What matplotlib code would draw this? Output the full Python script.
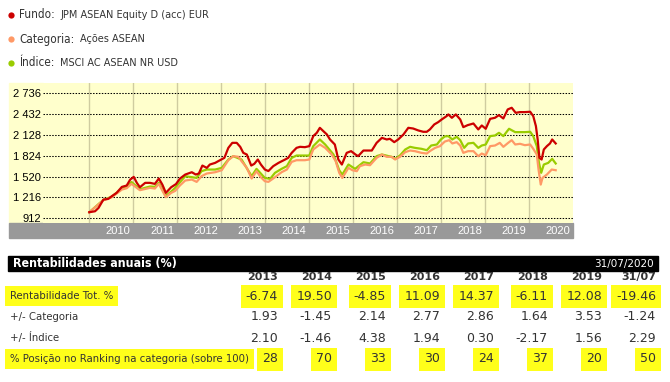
import matplotlib
matplotlib.use("Agg")
import matplotlib.pyplot as plt
from matplotlib import font_manager as fm
from matplotlib.patches import Rectangle
from matplotlib.lines import Line2D
from matplotlib.ticker import FuncFormatter

# --------------------------------------------------------------
# Data
# --------------------------------------------------------------

fund_x = [2010.00, 2010.13, 2010.21, 2010.32, 2010.43, 2010.51, 2010.62, 2010.74, 2010.85, 2010.93,
          2011.01, 2011.08, 2011.15, 2011.27, 2011.38, 2011.49, 2011.58, 2011.66, 2011.74, 2011.86,
          2011.97, 2012.06, 2012.18, 2012.33, 2012.42, 2012.49, 2012.57, 2012.67, 2012.74, 2012.86,
          2012.97, 2013.07, 2013.16, 2013.25, 2013.35, 2013.43, 2013.50, 2013.58, 2013.68, 2013.75,
          2013.83, 2013.90, 2013.99, 2014.07, 2014.18, 2014.30, 2014.45, 2014.52, 2014.60, 2014.71,
          2014.79, 2014.90, 2015.00, 2015.09, 2015.17, 2015.24, 2015.32, 2015.40, 2015.47, 2015.58,
          2015.66, 2015.74, 2015.85, 2015.95, 2016.05, 2016.11, 2016.23, 2016.42, 2016.53, 2016.65,
          2016.76, 2016.83, 2016.93, 2017.02, 2017.14, 2017.25, 2017.36, 2017.48, 2017.59, 2017.67,
          2017.74, 2017.84, 2017.93, 2018.01, 2018.12, 2018.16, 2018.24, 2018.33, 2018.43, 2018.50,
          2018.60, 2018.73, 2018.84, 2018.92, 2019.01, 2019.11, 2019.22, 2019.31, 2019.41, 2019.51,
          2019.60, 2019.69, 2019.79, 2019.90, 2020.02, 2020.09, 2020.15, 2020.19, 2020.23, 2020.28,
          2020.33, 2020.40, 2020.47, 2020.52, 2020.60]
fund_y = [1000, 1014, 1063, 1184, 1194, 1233, 1282, 1369, 1389, 1476,
          1515, 1428, 1364, 1428, 1428, 1413, 1491, 1403, 1282, 1364,
          1410, 1490, 1549, 1583, 1549, 1564, 1680, 1646, 1695, 1719,
          1758, 1792, 1938, 2011, 2011, 1953, 1865, 1841, 1680, 1705,
          1768, 1695, 1622, 1600, 1671, 1719, 1768, 1792, 1865, 1938,
          1953, 1948, 1963, 2109, 2157, 2230, 2181, 2133, 2060, 1987,
          1768, 1695, 1865, 1890, 1841, 1817, 1899, 1899, 2011, 2084,
          2060, 2070, 2021, 2060, 2133, 2230, 2220, 2191, 2172, 2172,
          2206, 2279, 2313, 2352, 2400, 2425, 2376, 2425, 2352, 2240,
          2269, 2293, 2206, 2264, 2216, 2361, 2376, 2415, 2366, 2498,
          2522, 2449, 2459, 2459, 2464, 2400, 2255, 2060, 1792, 1768,
          1914, 1963, 2002, 2060, 2002]

cat_x = [2010.00, 2010.32, 2010.51, 2010.74, 2010.85, 2010.96, 2011.15, 2011.38, 2011.49, 2011.58,
         2011.74, 2011.86, 2011.95, 2012.06, 2012.18, 2012.33, 2012.44, 2012.55, 2012.67, 2012.86,
         2013.01, 2013.16, 2013.27, 2013.39, 2013.46, 2013.58, 2013.69, 2013.80, 2013.90, 2013.99,
         2014.07, 2014.22, 2014.37, 2014.49, 2014.60, 2014.71, 2014.90, 2015.00, 2015.09, 2015.24,
         2015.36, 2015.51, 2015.60, 2015.68, 2015.75, 2015.89, 2015.98, 2016.08, 2016.15, 2016.27,
         2016.38, 2016.53, 2016.65, 2016.76, 2016.87, 2016.95, 2017.06, 2017.18, 2017.29, 2017.40,
         2017.55, 2017.67, 2017.74, 2017.86, 2017.97, 2018.08, 2018.18, 2018.25, 2018.35, 2018.43,
         2018.50, 2018.61, 2018.73, 2018.84, 2018.92, 2019.01, 2019.11, 2019.22, 2019.33, 2019.41,
         2019.52, 2019.60, 2019.68, 2019.79, 2019.90, 2020.02, 2020.09, 2020.17, 2020.21, 2020.26,
         2020.30, 2020.40, 2020.51, 2020.60]
cat_y = [1000, 1175, 1218, 1330, 1350, 1413, 1321, 1355, 1345, 1413,
         1218, 1282, 1310, 1390, 1462, 1476, 1442, 1525, 1564, 1583,
         1612, 1758, 1817, 1807, 1744, 1646, 1491, 1598, 1510, 1452,
         1442, 1510, 1583, 1622, 1734, 1758, 1758, 1768, 1914, 1987,
         1938, 1841, 1744, 1574, 1500, 1646, 1612, 1598, 1671, 1695,
         1685, 1792, 1841, 1807, 1807, 1768, 1807, 1875, 1899, 1890,
         1865, 1855, 1890, 1938, 1963, 2030, 2050, 2002, 2021, 1972,
         1865, 1890, 1890, 1817, 1855, 1831, 1963, 1972, 2011, 1953,
         2011, 2050, 1987, 1997, 1977, 1987, 1924, 1841, 1622, 1403,
         1500, 1549, 1622, 1612]

idx_x = [2010.00, 2010.32, 2010.51, 2010.74, 2010.85, 2010.96, 2011.15, 2011.38, 2011.49, 2011.58,
         2011.74, 2011.86, 2011.95, 2012.18, 2012.44, 2012.55, 2012.67, 2012.86, 2013.01, 2013.16,
         2013.27, 2013.46, 2013.69, 2013.80, 2013.99, 2014.11, 2014.22, 2014.37, 2014.49, 2014.60,
         2014.71, 2015.00, 2015.09, 2015.24, 2015.36, 2015.55, 2015.68, 2015.75, 2015.89, 2016.04,
         2016.23, 2016.38, 2016.53, 2016.65, 2016.87, 2016.95, 2017.06, 2017.18, 2017.29, 2017.40,
         2017.55, 2017.67, 2017.77, 2017.90, 2017.99, 2018.08, 2018.16, 2018.25, 2018.35, 2018.43,
         2018.52, 2018.61, 2018.73, 2018.84, 2018.92, 2019.01, 2019.11, 2019.22, 2019.31, 2019.41,
         2019.54, 2019.68, 2019.79, 2019.90, 2020.02, 2020.09, 2020.17, 2020.22, 2020.27, 2020.33,
         2020.43, 2020.52, 2020.60]
idx_y = [1000, 1180, 1225, 1345, 1365, 1440, 1335, 1375, 1370, 1430,
         1240, 1300, 1355, 1525, 1500, 1598, 1622, 1622, 1646, 1768,
         1817, 1768, 1525, 1632, 1500, 1486, 1574, 1632, 1671, 1792,
         1826, 1826, 1963, 2060, 1987, 1841, 1612, 1549, 1695, 1632,
         1729, 1710, 1817, 1841, 1807, 1778, 1826, 1914, 1953, 1938,
         1924, 1904, 1972, 1987, 2060, 2105, 2109, 2060, 2099, 2050,
         1938, 2002, 2011, 1938, 1972, 1987, 2109, 2118, 2157, 2109,
         2216, 2167, 2167, 2167, 2172, 2109, 1963, 1719, 1574, 1695,
         1719, 1778, 1710]

y_ticks = [912, 1216, 1520, 1824, 2128, 2432, 2736]
years = list(range(2010, 2021))

legend_names = ["Fundo:", "Categoria:", "Índice:"]
legend_desc = ["JPM ASEAN Equity D (acc) EUR", "Ações ASEAN", "MSCI AC ASEAN NR USD"]

col_heads = ["2013", "2014", "2015", "2016", "2017", "2018", "2019", "31/07"]
rent_tot = ["-6.74", "19.50", "-4.85", "11.09", "14.37", "-6.11", "12.08", "-19.46"]
vs_cat = ["1.93", "-1.45", "2.14", "2.77", "2.86", "1.64", "3.53", "-1.24"]
vs_idx = ["2.10", "-1.46", "4.38", "1.94", "0.30", "-2.17", "1.56", "2.29"]
ranking = [28, 70, 33, 30, 24, 37, 20, 50]
row_labels = ["Rentabilidade Tot. %", "+/- Categoria", "+/- Índice",
              "% Posição no Ranking na categoria (sobre 100)"]

# --------------------------------------------------------------
# Figure setup
# --------------------------------------------------------------

W, H = 670, 382
RED, ORANGE, GREEN = "#cc0000", "#ff9966", "#99cc00"
TXT = "#333333"


def narrow_font(bold=False):
    # look for any condensed / narrow face, fall back to Liberation Sans
    for f in fm.fontManager.ttflist:
        base = f.fname.lower().rsplit("/", 1)[-1]
        if ("narrow" in base or "condensed" in base) \
                and "oblique" not in base and "italic" not in base and "mono" not in base \
                and "light" not in base and "semi" not in base and "extra" not in base \
                and ("bold" in base) == bold:
            return fm.FontProperties(fname=f.fname)
    return fm.FontProperties(family="Liberation Sans", weight="bold" if bold else "normal")


NARROW = narrow_font()
NARROW_B = narrow_font(bold=True)


def fx(x):
    return x / W


def fy(y):
    return 1 - y / H


fig = plt.figure(figsize=(W / 100, H / 100), dpi=100)
fig.patch.set_facecolor("white")
renderer = fig.canvas.get_renderer()


def fit(texts, width_px):
    # scale font size so that the first text spans width_px
    w = texts[0].get_window_extent(renderer).width
    size = texts[0].get_fontsize() * width_px / w
    for t in texts:
        t.set_fontsize(size)


# plot area: pixels x 43..573, y 83..223
ax = fig.add_axes([fx(43), fy(223), fx(573) - fx(43), fy(83) - fy(223)])
ax.set_facecolor("#ffffcc")

# yellow strip behind y labels, gray band under the plot
fig.add_artist(Rectangle((fx(9), fy(223)), fx(34), fy(83) - fy(223),
                         transform=fig.transFigure, color="#ffffcc", zorder=0))
fig.add_artist(Rectangle((fx(9), fy(238)), fx(564), fy(223) - fy(238),
                         transform=fig.transFigure, color="#999999", zorder=0))

ax.plot(idx_x, idx_y, color=GREEN, lw=1.6, zorder=3)
ax.plot(cat_x, cat_y, color=ORANGE, lw=1.6, zorder=4)
ax.plot(fund_x, fund_y, color=RED, lw=1.6, zorder=5)

ax.set_xlim(2010 - 46.3 / 44, 2010 + 483.7 / 44)
ax.set_ylim(843, 2883)

ax.set_yticks(y_ticks)
ax.yaxis.set_major_formatter(FuncFormatter(lambda v, p: f"{int(v):,}".replace(",", " ")))
ax.tick_params(axis="y", length=0, pad=1.5, labelsize=8, labelcolor="black")
for lab in ax.get_yticklabels():
    lab.set_family("Liberation Sans")
ax.grid(axis="y", color="black", lw=0.75, linestyle=(0, (1.4, 1.4)))

ax.set_xticks(years)
ax.set_xticklabels([])
ax.set_xticks([y + 0.93 for y in years], minor=True)
ax.set_xticklabels([str(y) for y in years], minor=True, ha="right")
ax.tick_params(axis="x", which="both", length=0)
ax.tick_params(axis="x", which="minor", pad=2.5, labelsize=8, labelcolor="white")
for lab in ax.get_xticklabels(minor=True):
    lab.set_family("Liberation Sans")
ax.grid(axis="x", which="major", color="#cfcca0", lw=1)
ax.set_axisbelow(True)
for s in ax.spines.values():
    s.set_visible(False)

# --------------------------------------------------------------
# Legend on top
# --------------------------------------------------------------

legend_y = [15, 39, 62.5]
name_texts = []
desc_texts = []
for name, desc, col, y in zip(legend_names, legend_desc, [RED, ORANGE, GREEN], legend_y):
    fig.add_artist(Line2D([fx(11)], [fy(y)], transform=fig.transFigure, marker="o",
                          markersize=4.5, color=col, markeredgewidth=0))
    name_texts.append(fig.text(fx(19), fy(y), name, fontproperties=NARROW, fontsize=10,
                               color=TXT, va="center"))
    desc_texts.append(fig.text(fx(60), fy(y), desc, fontsize=7, color=TXT, va="center"))
fit([name_texts[1]] + name_texts[:1] + name_texts[2:], 55)
# place each description just after its name
inv = fig.transFigure.inverted()
for nt, dt in zip(name_texts, desc_texts):
    x1 = nt.get_window_extent(renderer).x1 + 6
    dt.set_x(inv.transform((x1, 0))[0])

# --------------------------------------------------------------
# Table of annual returns
# --------------------------------------------------------------

fig.add_artist(Rectangle((fx(8), fy(271)), fx(650), fy(256) - fy(271),
                         transform=fig.transFigure, color="black", zorder=1))
head = fig.text(fx(13), fy(263.5), "Rentabilidades anuais (%)", fontproperties=NARROW_B,
                fontsize=9, color="white", va="center", zorder=2)
fit([head], 165)
fig.text(fx(654), fy(263.5), "31/07/2020", fontsize=7.5, color="white",
         va="center", ha="right", zorder=2)

col_right = [278 + 54 * i for i in range(len(col_heads))]
row_y = [296, 317, 338, 359]
HL = dict(boxstyle="square,pad=0.4", facecolor="#ffff1a", edgecolor="none")

for xr, h in zip(col_right, col_heads):
    fig.text(fx(xr), fy(277), h, weight="bold", fontsize=8, color=TXT, ha="right", va="center")

rows = [rent_tot, vs_cat, vs_idx, [str(r) for r in ranking]]
highlight = [True, False, False, True]
label_texts = []
for label, vals, y, hl in zip(row_labels, rows, row_y, highlight):
    label_texts.append(fig.text(fx(10), fy(y), label, fontproperties=NARROW, fontsize=9,
                                color=TXT, va="center", bbox=HL if hl else None))
    for xr, v in zip(col_right, vals):
        fig.text(fx(xr), fy(y), v, fontsize=9, color=TXT, ha="right", va="center",
                 bbox=HL if hl else None)
fit([label_texts[3]] + label_texts[:3], 240)

fig.savefig("out.png", dpi=100)
